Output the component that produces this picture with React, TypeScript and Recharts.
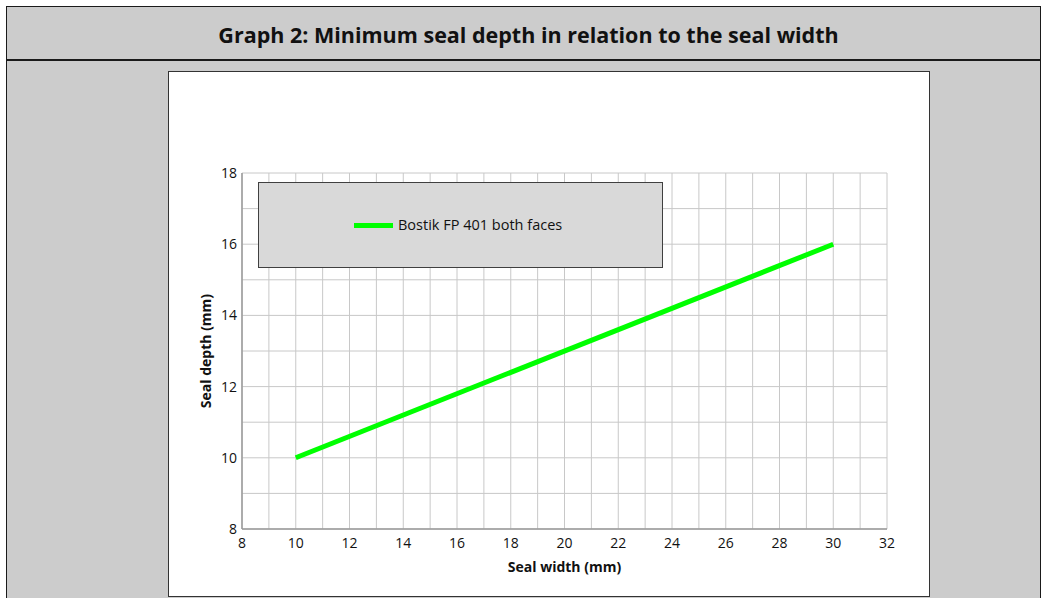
import React from 'react';
import { LineChart, Line, XAxis, YAxis, CartesianGrid, Legend } from 'recharts';

const sealWidth = [10, 30];
const sealDepth = [10, 16];
const seriesName = 'Bostik FP 401 both faces';

const xGridTicks = [8, 9, 10, 11, 12, 13, 14, 15, 16, 17, 18, 19, 20, 21, 22, 23, 24, 25, 26, 27, 28, 29, 30, 31, 32];
const xTickLabels = [8, 10, 12, 14, 16, 18, 20, 22, 24, 26, 28, 30, 32];
const yGridTicks = [8, 9, 10, 11, 12, 13, 14, 15, 16, 17, 18];
const yTickLabels = [8, 10, 12, 14, 16, 18];

const titleText = 'Graph 2: Minimum seal depth in relation to the seal width';
const xTitle = 'Seal width (mm)';
const yTitle = 'Seal depth (mm)';

const data = sealWidth.map((w, i) => ({ width: w, depth: sealDepth[i] }));

const FONT = '"Open Sans", "DejaVu Sans", sans-serif';

const renderLegend = (props: any) => {
  const item = props.payload && props.payload[0];
  return (
    <div
      style={{
        position: 'relative',
        width: 405,
        height: 86,
        boxSizing: 'border-box',
        border: '1.5px solid #404040',
        background: '#d9d9d9',
        fontFamily: FONT,
      }}
    >
      <div
        style={{
          position: 'absolute',
          left: 95,
          top: 40,
          width: 39,
          height: 5,
          background: item ? item.color : '#00ff00',
        }}
      />
      <div
        style={{
          position: 'absolute',
          left: 139,
          top: 32,
          fontSize: 14.5,
          lineHeight: '20px',
          color: '#111',
          whiteSpace: 'nowrap',
        }}
      >
        {item ? item.value : seriesName}
      </div>
    </div>
  );
};

export default function App() {
  return (
    <div style={{ position: 'absolute', left: 0, top: 0, width: 1041, height: 598, overflow: 'hidden', fontFamily: FONT }}>
      <div
        style={{
          position: 'absolute',
          left: 6,
          top: 6,
          width: 1035,
          height: 600,
          boxSizing: 'border-box',
          background: '#cccccc',
          border: '1.5px solid #1a1a1a',
        }}
      />
      <div style={{ position: 'absolute', left: 6, top: 59, width: 1035, height: 1.5, background: '#1a1a1a' }} />
      <div
        style={{
          position: 'absolute',
          left: 11,
          top: 20,
          width: 1035,
          textAlign: 'center',
          fontWeight: 700,
          fontSize: 21.5,
          lineHeight: '30px',
          color: '#111',
          whiteSpace: 'nowrap',
        }}
      >
        {titleText}
      </div>
      <div
        style={{
          position: 'absolute',
          left: 168,
          top: 71,
          width: 762,
          height: 526,
          boxSizing: 'border-box',
          background: '#ffffff',
          border: '1px solid #333333',
        }}
      />
      <div style={{ position: 'absolute', left: 168, top: 71 }}>
        <LineChart
          width={761}
          height={525}
          data={data}
          margin={{ top: 102, right: 42, bottom: 37, left: 2 }}
          style={{ fontFamily: FONT }}
        >
          <CartesianGrid stroke="#c8c8c8" strokeWidth={1} />
          <XAxis
            dataKey="width"
            type="number"
            domain={[8, 32]}
            ticks={xGridTicks}
            interval={0}
            tickFormatter={(v: number) => (xTickLabels.includes(v) ? String(v) : '')}
            height={30}
            tickLine={false}
            tickSize={0}
            tickMargin={9}
            stroke="#9a9a9a"
            strokeWidth={1.5}
            tick={{ fill: '#111', fontSize: 14, fontFamily: FONT }}
            label={{ value: xTitle, position: 'bottom', offset: 3, fill: '#111', fontSize: 14, fontWeight: 700, fontFamily: FONT }}
          />
          <YAxis
            dataKey="depth"
            type="number"
            domain={[8, 18]}
            ticks={yGridTicks}
            interval={0}
            tickFormatter={(v: number) => (yTickLabels.includes(v) ? String(v) : '')}
            width={72}
            tickLine={false}
            tickSize={0}
            tickMargin={5}
            stroke="#9a9a9a"
            strokeWidth={1.5}
            tick={{ fill: '#111', fontSize: 14, fontFamily: FONT }}
            label={{ value: yTitle, position: 'center', angle: -90, fill: '#111', fontSize: 14, fontWeight: 700, fontFamily: FONT }}
          />
          <Legend
            layout="horizontal"
            verticalAlign="middle"
            align="center"
            content={renderLegend}
            wrapperStyle={{ position: 'absolute', left: 90, top: 111, width: 405, height: 86 }}
          />
          <Line
            type="linear"
            dataKey="depth"
            name={seriesName}
            stroke="#00ff00"
            strokeWidth={5}
            dot={false}
            activeDot={false}
            isAnimationActive={false}
          />
        </LineChart>
      </div>
    </div>
  );
}
